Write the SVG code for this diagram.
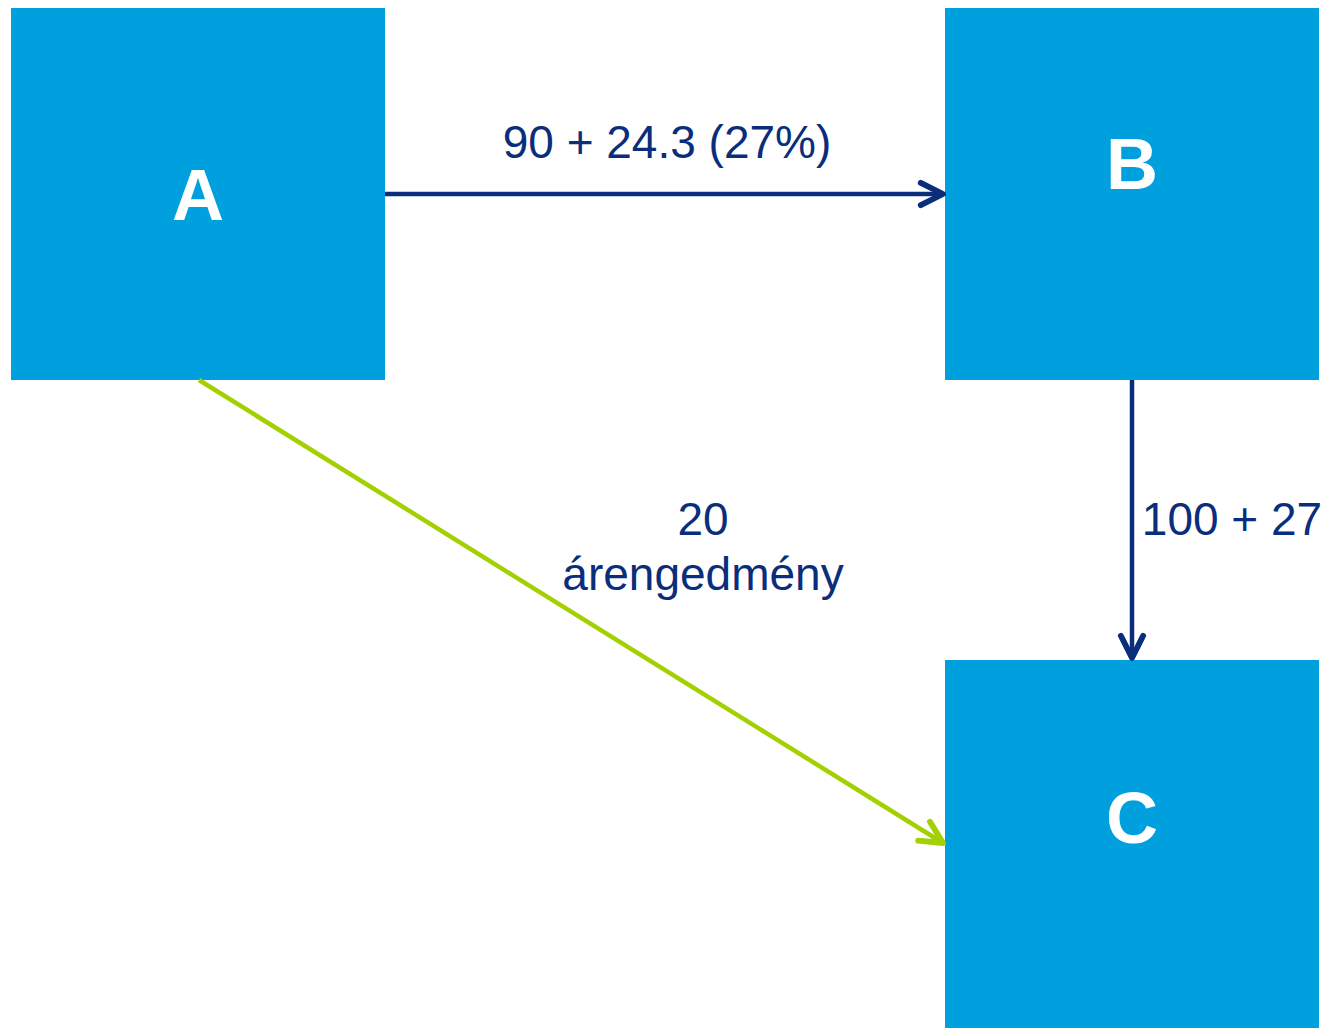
<svg xmlns="http://www.w3.org/2000/svg" width="1328" height="1028" viewBox="0 0 1328 1028">
  <style>
    .box { fill: #00A0DF; }
    .node-label { font-family: "Liberation Sans", Arial, sans-serif; font-weight: bold; font-size: 72px; fill: #FFFFFF; text-anchor: middle; }
    .edge-label { font-family: "Liberation Sans", Arial, sans-serif; font-size: 46px; fill: #0A2D7C; text-anchor: middle; }
    .navy { stroke: #0A2D7C; stroke-width: 4.5; fill: none; }
    .green { stroke: #A2D000; stroke-width: 4.5; fill: none; }
  </style>
  <defs>
    <marker id="head-navy" viewBox="0 0 10 10" refX="8.8" refY="5" markerWidth="6.5" markerHeight="6.5" markerUnits="strokeWidth" orient="auto">
      <path d="M1.2,1.2 L8.8,5 L1.2,8.8" fill="none" stroke="#0A2D7C" stroke-width="2" stroke-linecap="round" stroke-linejoin="round"/>
    </marker>
    <marker id="head-green" viewBox="0 0 10 10" refX="8.8" refY="5" markerWidth="6.5" markerHeight="6.5" markerUnits="strokeWidth" orient="auto">
      <path d="M1.2,1.2 L8.8,5 L1.2,8.8" fill="none" stroke="#A2D000" stroke-width="2" stroke-linecap="round" stroke-linejoin="round"/>
    </marker>
  </defs>

  <g id="node-A">
    <rect class="box" x="11" y="8" width="374" height="372"/>
    <text class="node-label" x="198" y="220">A</text>
  </g>
  <g id="node-B">
    <rect class="box" x="945" y="8" width="374" height="372"/>
    <text class="node-label" x="1132" y="189">B</text>
  </g>
  <g id="node-C">
    <rect class="box" x="945" y="660" width="374" height="368"/>
    <text class="node-label" x="1132" y="843">C</text>
  </g>

  <g id="connectors">
    <line class="navy" x1="385" y1="194" x2="943" y2="194" marker-end="url(#head-navy)"/>
    <line class="navy" x1="1132" y1="380" x2="1132" y2="658" marker-end="url(#head-navy)"/>
    <line class="green" x1="199" y1="380" x2="943" y2="843" marker-end="url(#head-green)"/>
    <text class="edge-label" x="667" y="158">90 + 24.3 (27%)</text>
    <text class="edge-label" x="1232" y="535">100 + 27</text>
    <text class="edge-label" x="703" y="535">20</text>
    <text class="edge-label" x="703" y="590">árengedmény</text>
  </g>
</svg>
